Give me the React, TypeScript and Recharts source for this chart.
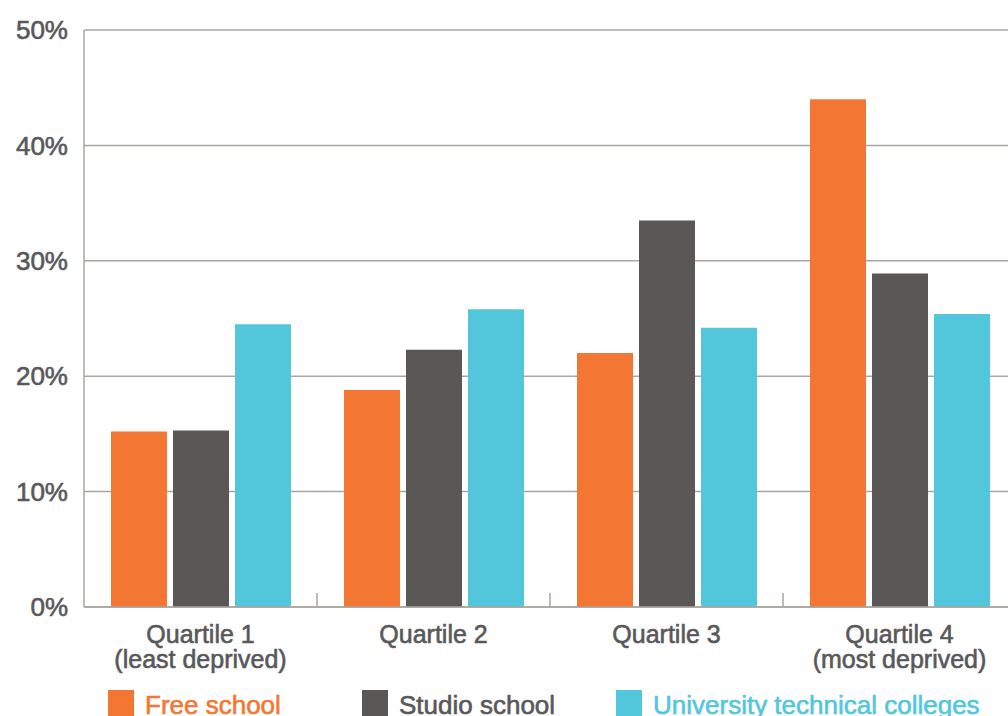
import { BarChart, Bar, XAxis, YAxis, CartesianGrid } from "recharts"

const quartiles = ["Quartile 1", "Quartile 2", "Quartile 3", "Quartile 4"]
const subLabels = ["(least deprived)", "", "", "(most deprived)"]
const freeSchool = [15.2, 18.8, 22.0, 44.0]
const studioSchool = [15.3, 22.3, 33.5, 28.9]
const utc = [24.5, 25.8, 24.2, 25.4]
const yTicks = [0, 10, 20, 30, 40, 50]

const series = [
  { key: "free", name: "Free school", color: "#f37732", text: "#f37732" },
  { key: "studio", name: "Studio school", color: "#5a5856", text: "#58585a" },
  { key: "utc", name: "University technical colleges", color: "#52c7dc", text: "#52c7dc" },
]

const data = quartiles.map((q, i) => ({
  name: q,
  sub: subLabels[i],
  free: freeSchool[i],
  studio: studioSchool[i],
  utc: utc[i],
}))

const FONT = '"Liberation Sans", Arial, sans-serif'
const TEXT = "#58585a"
const GRID = "#aba59f"

const CHART_W = 1030
const LEFT = 84
const RIGHT = 14
const BAND = (CHART_W - LEFT - RIGHT) / quartiles.length

// slight stroke to mimic the medium weight of the original font
const heavy = { stroke: TEXT, strokeWidth: 0.6, paintOrder: "stroke" as const }

function QuartileTick(props: any) {
  const { x, y, payload, index } = props
  const sub = subLabels[index]
  return (
    <g>
      {index < quartiles.length - 1 && (
        <line x1={x + BAND / 2} x2={x + BAND / 2} y1={y - 14} y2={y} stroke={GRID} strokeWidth={1.5} />
      )}
      <text x={x} y={y + 36} textAnchor="middle" fill={TEXT} fontSize={25} fontFamily={FONT} {...heavy}>
        {payload.value}
      </text>
      {sub && (
        <text x={x} y={y + 61} textAnchor="middle" fill={TEXT} fontSize={25} fontFamily={FONT} {...heavy}>
          {sub}
        </text>
      )}
    </g>
  )
}

export default function App() {
  return (
    <div
      style={{
        position: "absolute",
        top: 0,
        left: 0,
        width: 1008,
        height: 716,
        overflow: "hidden",
        background: "#fff",
        fontFamily: FONT,
      }}
    >
      <BarChart
        width={CHART_W}
        height={740}
        data={data}
        margin={{ top: 30, right: RIGHT, bottom: 73, left: 0 }}
        barCategoryGap={27}
        barGap={6}
      >
        <CartesianGrid vertical={false} stroke={GRID} strokeWidth={1.5} />
        <XAxis
          dataKey="name"
          height={60}
          tickSize={0}
          tickMargin={0}
          tickLine={false}
          axisLine={{ stroke: GRID, strokeWidth: 1.5 }}
          tick={<QuartileTick />}
          interval={0}
        />
        <YAxis
          width={LEFT}
          domain={[0, 50]}
          ticks={yTicks}
          tickFormatter={(v: number) => `${v}%`}
          tickSize={0}
          tickMargin={16}
          tickLine={false}
          axisLine={{ stroke: GRID, strokeWidth: 1.5 }}
          tick={{ fill: TEXT, fontSize: 26, fontFamily: FONT, ...heavy }}
        />
        {series.map((s) => (
          <Bar key={s.key} dataKey={s.key} name={s.name} fill={s.color} isAnimationActive={false} />
        ))}
      </BarChart>
      <div style={{ position: "absolute", top: 690, left: 108, display: "flex" }}>
        {series.map((s) => (
          <div key={s.key} style={{ width: 254, display: "flex", alignItems: "flex-start" }}>
            <div style={{ width: 26, height: 26, background: s.color, flex: "none" }} />
            <span
              style={{
                marginLeft: 11,
                color: s.text,
                fontSize: 26,
                lineHeight: "30px",
                whiteSpace: "nowrap",
                WebkitTextStroke: `0.6px ${s.text}`,
              }}
            >
              {s.name}
            </span>
          </div>
        ))}
      </div>
    </div>
  )
}
